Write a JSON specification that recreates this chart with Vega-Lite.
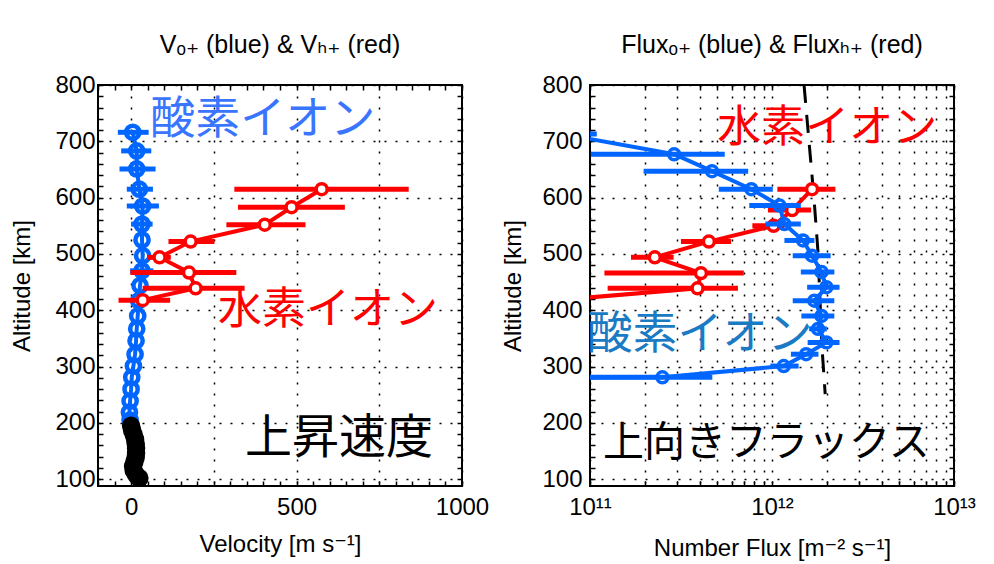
{
  "$schema": "https://vega.github.io/schema/vega-lite/v6.json",
  "background": "white",
  "padding": {"left": 9, "top": 32, "right": 5, "bottom": 5},
  "spacing": 10,
  "config": {
    "font": "Liberation Sans, DejaVu Sans",
    "view": {"stroke": "black", "strokeWidth": 2},
    "title": {"font": "Liberation Sans, DejaVu Sans", "fontSize": 25, "fontWeight": "normal", "color": "black", "offset": 15},
    "axis": {
      "labelFont": "Liberation Sans, DejaVu Sans", "labelFontSize": 24, "labelColor": "black",
      "titleFont": "Liberation Sans, DejaVu Sans", "titleFontSize": 24, "titleFontWeight": "normal", "titleColor": "black",
      "tickColor": "black", "tickWidth": 1.5, "tickSize": -5,
      "gridColor": "black", "gridDash": [2, 9], "gridWidth": 1.5,
      "domain": false, "labelFlush": false, "labelOverlap": false
    }
  },
  "datasets": {
    "vO": [
      {"alt": 716, "v": 5, "lo": -40, "hi": 53},
      {"alt": 683, "v": 17, "lo": -30, "hi": 61},
      {"alt": 651, "v": 17, "lo": -35, "hi": 74},
      {"alt": 615, "v": 25, "lo": -13, "hi": 66},
      {"alt": 585, "v": 35, "lo": -13, "hi": 84},
      {"alt": 553, "v": 33, "lo": 0, "hi": 65},
      {"alt": 525, "v": 33},
      {"alt": 497, "v": 35},
      {"alt": 470, "v": 33, "lo": -3, "hi": 67},
      {"alt": 444, "v": 27},
      {"alt": 417, "v": 23},
      {"alt": 390, "v": 20},
      {"alt": 367, "v": 17},
      {"alt": 346, "v": 15},
      {"alt": 322, "v": 12},
      {"alt": 301, "v": 7},
      {"alt": 281, "v": 2},
      {"alt": 260, "v": 0},
      {"alt": 239, "v": -3},
      {"alt": 219, "v": -5},
      {"alt": 205, "v": -3}
    ],
    "vBlack": [
      {"alt": 195, "v": 0},
      {"alt": 187, "v": 3},
      {"alt": 179, "v": 8},
      {"alt": 171, "v": 12},
      {"alt": 163, "v": 14},
      {"alt": 155, "v": 15},
      {"alt": 147, "v": 15},
      {"alt": 139, "v": 14},
      {"alt": 131, "v": 10},
      {"alt": 123, "v": 6},
      {"alt": 115, "v": 8},
      {"alt": 108, "v": 15},
      {"alt": 102, "v": 25}
    ],
    "vH": [
      {"alt": 615, "v": 576, "lo": 312, "hi": 839},
      {"alt": 583, "v": 485, "lo": 323, "hi": 646},
      {"alt": 552, "v": 404, "lo": 288, "hi": 527},
      {"alt": 522, "v": 180, "lo": 113, "hi": 252},
      {"alt": 494, "v": 86, "lo": 50, "hi": 120},
      {"alt": 467, "v": 175, "lo": -2, "hi": 318},
      {"alt": 439, "v": 195, "lo": 35, "hi": 343},
      {"alt": 418, "v": 35, "lo": -38, "hi": 118}
    ],
    "fO": [
      {"alt": 713, "f": 7e10, "lo": 3e10, "hi": 1.09e11},
      {"alt": 677, "f": 2.9e11, "lo": 1.01e11, "hi": 5.5e11},
      {"alt": 647, "f": 4.68e11, "lo": 1.97e11, "hi": 7.4e11},
      {"alt": 615, "f": 7.7e11, "lo": 5.1e11, "hi": 1.01e12},
      {"alt": 586, "f": 1.1e12, "lo": 7.5e11, "hi": 1.44e12},
      {"alt": 553, "f": 1.17e12, "lo": 9.2e11, "hi": 1.44e12},
      {"alt": 524, "f": 1.48e12, "lo": 1.17e12, "hi": 1.71e12},
      {"alt": 497, "f": 1.66e12, "lo": 1.3e12, "hi": 2.1e12},
      {"alt": 468, "f": 1.87e12, "lo": 1.44e12, "hi": 2.2e12},
      {"alt": 441, "f": 1.99e12, "lo": 1.56e12, "hi": 2.35e12},
      {"alt": 417, "f": 1.71e12, "lo": 1.3e12, "hi": 2.2e12},
      {"alt": 390, "f": 1.87e12, "lo": 1.45e12, "hi": 2.2e12},
      {"alt": 367, "f": 1.79e12, "lo": 1.6e12, "hi": 2.0e12},
      {"alt": 343, "f": 1.99e12, "lo": 1.57e12, "hi": 2.35e12},
      {"alt": 322, "f": 1.54e12, "lo": 1.27e12, "hi": 1.8e12},
      {"alt": 301, "f": 1.16e12, "lo": 9.8e11, "hi": 1.4e12},
      {"alt": 281, "f": 2.5e11, "lo": 5e10, "hi": 4.7e11},
      {"alt": 280, "f": 3e10}
    ],
    "fH": [
      {"alt": 615, "f": 1.66e12, "lo": 1.07e12, "hi": 2.23e12},
      {"alt": 578, "f": 1.29e12, "lo": 9.5e11, "hi": 1.64e12},
      {"alt": 550, "f": 1.02e12, "lo": 7.8e11, "hi": 1.17e12},
      {"alt": 522, "f": 4.5e11, "lo": 3.16e11, "hi": 5.96e11},
      {"alt": 494, "f": 2.27e11, "lo": 1.68e11, "hi": 2.88e11},
      {"alt": 466, "f": 4.07e11, "lo": 1.2e11, "hi": 7.0e11},
      {"alt": 439, "f": 3.9e11, "lo": 1.25e11, "hi": 6.5e11},
      {"alt": 418, "f": 6.6e10}
    ],
    "fRef": [
      {"alt": 800, "f": 1.50e12},
      {"alt": 600, "f": 1.70e12},
      {"alt": 503, "f": 1.79e12},
      {"alt": 337, "f": 1.88e12},
      {"alt": 251, "f": 1.96e12}
    ],
    "notes": [
      {"panel": "L", "label": "酸素イオン", "x": 58, "y": 738},
      {"panel": "L", "label": "水素イオン", "x": 263, "y": 399},
      {"panel": "L", "label": "上昇速度", "x": 344, "y": 172},
      {"panel": "R", "label": "水素イオン", "x": 5.0e11, "y": 722},
      {"panel": "R", "label": "酸素イオン", "x": 0.97e11, "y": 356},
      {"panel": "R", "label": "上向きフラックス", "x": 1.18e11, "y": 163}
    ]
  },
  "hconcat": [
    {
      "width": 364,
      "height": 401,
      "title": "Vₒ₊ (blue) & Vₕ₊ (red)",
      "resolve": {"axis": {"x": "independent", "y": "independent"}},
      "layer": [
        {
          "data": {"name": "vO"},
          "transform": [{"filter": "isValid(datum.lo)"}],
          "mark": {"type": "rule", "color": "#0066ff", "strokeWidth": 5, "clip": true},
          "encoding": {
            "x": {"field": "lo", "type": "quantitative", "scale": {"domain": [-100, 1000], "nice": false, "zero": false},
              "axis": {"title": "Velocity [m s⁻¹]", "orient": "bottom", "format": "d",
                "values": [-100,-50,0,50,100,150,200,250,300,350,400,450,500,550,600,650,700,750,800,850,900,950,1000],
                "labelExpr": "datum.value % 500 === 0 ? datum.label : ''",
                "labelPadding": 14, "titlePadding": 13,
                "gridOpacity": {"condition": {"test": "datum.value % 250 === 0", "value": 1}, "value": 0}}},
            "x2": {"field": "hi"},
            "y": {"field": "alt", "type": "quantitative", "scale": {"domain": [88, 800], "nice": false, "zero": false},
              "axis": {"title": "Altitude [km]", "orient": "left", "format": "d",
                "values": [100,120,140,160,180,200,220,240,260,280,300,320,340,360,380,400,420,440,460,480,500,520,540,560,580,600,620,640,660,680,700,720,740,760,780,800],
                "labelExpr": "datum.value % 100 === 0 ? datum.label : ''",
                "labelPadding": 8, "titlePadding": 20,
                "gridOpacity": {"condition": {"test": "datum.value % 100 === 0", "value": 1}, "value": 0}}}
          }
        },
        {
          "data": {"name": "vO"},
          "mark": {"type": "line", "color": "#0066ff", "strokeWidth": 4, "clip": true},
          "encoding": {
            "x": {"field": "v", "type": "quantitative", "scale": {"domain": [-100, 1000], "nice": false, "zero": false}, "axis": null},
            "y": {"field": "alt", "type": "quantitative", "scale": {"domain": [88, 800], "nice": false, "zero": false}, "axis": null},
            "order": {"field": "alt"}
          }
        },
        {
          "data": {"name": "vO"},
          "mark": {"type": "point", "shape": "circle", "filled": false, "size": 175, "strokeWidth": 4.5, "color": "#0066ff", "opacity": 1, "clip": true},
          "encoding": {
            "x": {"field": "v", "type": "quantitative", "scale": {"domain": [-100, 1000], "nice": false, "zero": false}, "axis": null},
            "y": {"field": "alt", "type": "quantitative", "scale": {"domain": [88, 800], "nice": false, "zero": false}, "axis": null}
          }
        },
        {
          "data": {"name": "vBlack"},
          "mark": {"type": "point", "shape": "circle", "filled": true, "size": 240, "color": "black", "stroke": "black", "strokeWidth": 3, "opacity": 1, "clip": true},
          "encoding": {
            "x": {"field": "v", "type": "quantitative", "scale": {"domain": [-100, 1000], "nice": false, "zero": false}, "axis": null},
            "y": {"field": "alt", "type": "quantitative", "scale": {"domain": [88, 800], "nice": false, "zero": false}, "axis": null}
          }
        },
        {
          "data": {"name": "vH"},
          "mark": {"type": "rule", "color": "#ff0000", "strokeWidth": 5, "clip": true},
          "encoding": {
            "x": {"field": "lo", "type": "quantitative", "scale": {"domain": [-100, 1000], "nice": false, "zero": false}, "axis": null},
            "x2": {"field": "hi"},
            "y": {"field": "alt", "type": "quantitative", "scale": {"domain": [88, 800], "nice": false, "zero": false}, "axis": null}
          }
        },
        {
          "data": {"name": "vH"},
          "mark": {"type": "line", "color": "#ff0000", "strokeWidth": 4, "clip": true},
          "encoding": {
            "x": {"field": "v", "type": "quantitative", "scale": {"domain": [-100, 1000], "nice": false, "zero": false}, "axis": null},
            "y": {"field": "alt", "type": "quantitative", "scale": {"domain": [88, 800], "nice": false, "zero": false}, "axis": null},
            "order": {"field": "alt"}
          }
        },
        {
          "data": {"name": "vH"},
          "mark": {"type": "point", "shape": "circle", "filled": true, "fill": "white", "size": 120, "strokeWidth": 3.5, "stroke": "#ff0000", "opacity": 1, "clip": true},
          "encoding": {
            "x": {"field": "v", "type": "quantitative", "scale": {"domain": [-100, 1000], "nice": false, "zero": false},
              "axis": {"orient": "top", "title": null, "labels": false, "grid": false,
                "values": [-100,-50,0,50,100,150,200,250,300,350,400,450,500,550,600,650,700,750,800,850,900,950,1000]}},
            "y": {"field": "alt", "type": "quantitative", "scale": {"domain": [88, 800], "nice": false, "zero": false},
              "axis": {"orient": "right", "title": null, "labels": false, "grid": false,
                "values": [100,120,140,160,180,200,220,240,260,280,300,320,340,360,380,400,420,440,460,480,500,520,540,560,580,600,620,640,660,680,700,720,740,760,780,800]}}
          }
        },
        {
          "data": {"name": "notes"},
          "transform": [{"filter": "datum.label === '酸素イオン' && datum.panel === 'L'"}],
          "mark": {"type": "text", "align": "left", "baseline": "middle", "font": "Noto Sans CJK JP", "fontSize": 45, "color": "#3a75ff"},
          "encoding": {
            "x": {"field": "x", "type": "quantitative", "scale": {"domain": [-100, 1000], "nice": false, "zero": false}, "axis": null},
            "y": {"field": "y", "type": "quantitative", "scale": {"domain": [88, 800], "nice": false, "zero": false}, "axis": null},
            "text": {"field": "label"}
          }
        },
        {
          "data": {"name": "notes"},
          "transform": [{"filter": "datum.label === '水素イオン' && datum.panel === 'L'"}],
          "mark": {"type": "text", "align": "left", "baseline": "middle", "font": "Noto Sans CJK JP", "fontSize": 44, "color": "#ff0000"},
          "encoding": {
            "x": {"field": "x", "type": "quantitative", "scale": {"domain": [-100, 1000], "nice": false, "zero": false}, "axis": null},
            "y": {"field": "y", "type": "quantitative", "scale": {"domain": [88, 800], "nice": false, "zero": false}, "axis": null},
            "text": {"field": "label"}
          }
        },
        {
          "data": {"name": "notes"},
          "transform": [{"filter": "datum.label === '上昇速度'"}],
          "mark": {"type": "text", "align": "left", "baseline": "middle", "font": "Noto Sans CJK JP", "fontSize": 47, "color": "black"},
          "encoding": {
            "x": {"field": "x", "type": "quantitative", "scale": {"domain": [-100, 1000], "nice": false, "zero": false}, "axis": null},
            "y": {"field": "y", "type": "quantitative", "scale": {"domain": [88, 800], "nice": false, "zero": false}, "axis": null},
            "text": {"field": "label"}
          }
        }
      ]
    },
    {
      "width": 364,
      "height": 401,
      "title": "Fluxₒ₊ (blue) & Fluxₕ₊ (red)",
      "resolve": {"axis": {"x": "independent", "y": "independent"}},
      "layer": [
        {
          "data": {"name": "fRef"},
          "mark": {"type": "line", "color": "black", "strokeWidth": 3, "strokeDash": [18, 12], "clip": true},
          "encoding": {
            "x": {"field": "f", "type": "quantitative", "scale": {"type": "log", "domain": [1e11, 1e13], "nice": false},
              "axis": {"title": "Number Flux [m⁻² s⁻¹]", "orient": "bottom",
                "values": [1e11,2e11,3e11,4e11,5e11,6e11,7e11,8e11,9e11,1e12,2e12,3e12,4e12,5e12,6e12,7e12,8e12,9e12,1e13],
                "labelExpr": "datum.value === 1e11 ? '10¹¹' : datum.value === 1e12 ? '10¹²' : datum.value === 1e13 ? '10¹³' : ''",
                "labelPadding": 14, "titlePadding": 17}},
            "y": {"field": "alt", "type": "quantitative", "scale": {"domain": [88, 800], "nice": false, "zero": false},
              "axis": {"title": "Altitude [km]", "orient": "left", "format": "d",
                "values": [100,120,140,160,180,200,220,240,260,280,300,320,340,360,380,400,420,440,460,480,500,520,540,560,580,600,620,640,660,680,700,720,740,760,780,800],
                "labelExpr": "datum.value % 100 === 0 ? datum.label : ''",
                "labelPadding": 13, "titlePadding": 16,
                "gridOpacity": {"condition": {"test": "datum.value % 100 === 0", "value": 1}, "value": 0}}},
            "order": {"field": "alt", "sort": "descending"}
          }
        },
        {
          "data": {"name": "fH"},
          "transform": [{"filter": "isValid(datum.lo)"}],
          "mark": {"type": "rule", "color": "#ff0000", "strokeWidth": 5, "clip": true},
          "encoding": {
            "x": {"field": "lo", "type": "quantitative", "scale": {"type": "log", "domain": [1e11, 1e13], "nice": false}, "axis": null},
            "x2": {"field": "hi"},
            "y": {"field": "alt", "type": "quantitative", "scale": {"domain": [88, 800], "nice": false, "zero": false}, "axis": null}
          }
        },
        {
          "data": {"name": "fH"},
          "mark": {"type": "line", "color": "#ff0000", "strokeWidth": 4, "clip": true},
          "encoding": {
            "x": {"field": "f", "type": "quantitative", "scale": {"type": "log", "domain": [1e11, 1e13], "nice": false}, "axis": null},
            "y": {"field": "alt", "type": "quantitative", "scale": {"domain": [88, 800], "nice": false, "zero": false}, "axis": null},
            "order": {"field": "alt"}
          }
        },
        {
          "data": {"name": "fH"},
          "mark": {"type": "point", "shape": "circle", "filled": true, "fill": "white", "size": 120, "strokeWidth": 3.5, "stroke": "#ff0000", "opacity": 1, "clip": true},
          "encoding": {
            "x": {"field": "f", "type": "quantitative", "scale": {"type": "log", "domain": [1e11, 1e13], "nice": false}, "axis": null},
            "y": {"field": "alt", "type": "quantitative", "scale": {"domain": [88, 800], "nice": false, "zero": false}, "axis": null}
          }
        },
        {
          "data": {"name": "fO"},
          "transform": [{"filter": "isValid(datum.lo)"}],
          "mark": {"type": "rule", "color": "#0066ff", "strokeWidth": 5, "clip": true},
          "encoding": {
            "x": {"field": "lo", "type": "quantitative", "scale": {"type": "log", "domain": [1e11, 1e13], "nice": false}, "axis": null},
            "x2": {"field": "hi"},
            "y": {"field": "alt", "type": "quantitative", "scale": {"domain": [88, 800], "nice": false, "zero": false}, "axis": null}
          }
        },
        {
          "data": {"name": "fO"},
          "mark": {"type": "line", "color": "#0066ff", "strokeWidth": 4, "clip": true},
          "encoding": {
            "x": {"field": "f", "type": "quantitative", "scale": {"type": "log", "domain": [1e11, 1e13], "nice": false}, "axis": null},
            "y": {"field": "alt", "type": "quantitative", "scale": {"domain": [88, 800], "nice": false, "zero": false}, "axis": null},
            "order": {"field": "alt"}
          }
        },
        {
          "data": {"name": "fO"},
          "mark": {"type": "point", "shape": "circle", "filled": true, "fill": "white", "fillOpacity": 0, "size": 120, "strokeWidth": 3.5, "stroke": "#0066ff", "opacity": 1, "clip": true},
          "encoding": {
            "x": {"field": "f", "type": "quantitative", "scale": {"type": "log", "domain": [1e11, 1e13], "nice": false},
              "axis": {"orient": "top", "title": null, "labels": false, "grid": false,
                "values": [1e11,2e11,3e11,4e11,5e11,6e11,7e11,8e11,9e11,1e12,2e12,3e12,4e12,5e12,6e12,7e12,8e12,9e12,1e13]}},
            "y": {"field": "alt", "type": "quantitative", "scale": {"domain": [88, 800], "nice": false, "zero": false},
              "axis": {"orient": "right", "title": null, "labels": false, "grid": false,
                "values": [100,120,140,160,180,200,220,240,260,280,300,320,340,360,380,400,420,440,460,480,500,520,540,560,580,600,620,640,660,680,700,720,740,760,780,800]}}
          }
        },
        {
          "data": {"name": "notes"},
          "transform": [{"filter": "datum.label === '水素イオン' && datum.panel === 'R'"}],
          "mark": {"type": "text", "align": "left", "baseline": "middle", "font": "Noto Sans CJK JP", "fontSize": 44, "color": "#ff0000"},
          "encoding": {
            "x": {"field": "x", "type": "quantitative", "scale": {"type": "log", "domain": [1e11, 1e13], "nice": false}, "axis": null},
            "y": {"field": "y", "type": "quantitative", "scale": {"domain": [88, 800], "nice": false, "zero": false}, "axis": null},
            "text": {"field": "label"}
          }
        },
        {
          "data": {"name": "notes"},
          "transform": [{"filter": "datum.label === '酸素イオン' && datum.panel === 'R'"}],
          "mark": {"type": "text", "align": "left", "baseline": "middle", "font": "Noto Sans CJK JP", "fontSize": 45, "color": "#1a7bc4"},
          "encoding": {
            "x": {"field": "x", "type": "quantitative", "scale": {"type": "log", "domain": [1e11, 1e13], "nice": false}, "axis": null},
            "y": {"field": "y", "type": "quantitative", "scale": {"domain": [88, 800], "nice": false, "zero": false}, "axis": null},
            "text": {"field": "label"}
          }
        },
        {
          "data": {"name": "notes"},
          "transform": [{"filter": "datum.label === '上向きフラックス'"}],
          "mark": {"type": "text", "align": "left", "baseline": "middle", "font": "Noto Sans CJK JP", "fontSize": 41, "color": "black"},
          "encoding": {
            "x": {"field": "x", "type": "quantitative", "scale": {"type": "log", "domain": [1e11, 1e13], "nice": false}, "axis": null},
            "y": {"field": "y", "type": "quantitative", "scale": {"domain": [88, 800], "nice": false, "zero": false}, "axis": null},
            "text": {"field": "label"}
          }
        }
      ]
    }
  ]
}
